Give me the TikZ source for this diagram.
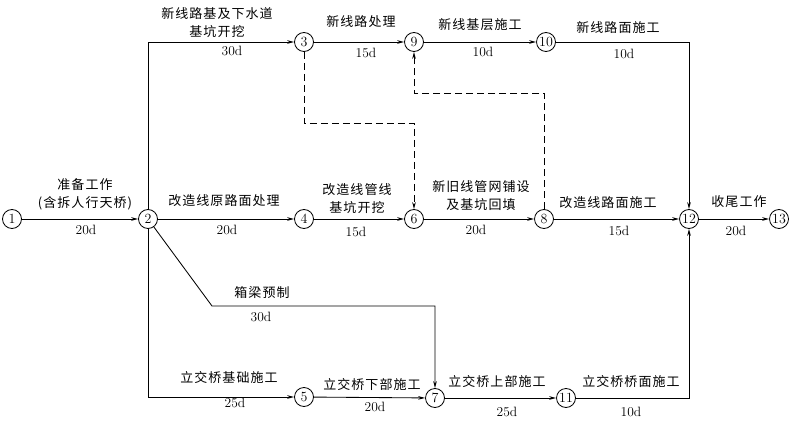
\documentclass[tikz,border=0pt]{standalone}
\usepackage{fontspec}
\newfontfamily\cjk[LetterSpace=8]{Noto Sans CJK SC}
\usetikzlibrary{arrows.meta}
\tikzset{
  ev/.style={circle,draw,line width=0.8pt,inner sep=0pt,minimum size=19pt,font=\fontsize{14}{14}\selectfont},
  arr/.style={line width=0.85pt,-{Stealth[length=7pt,width=3.6pt]}},
  dep/.style={arr,dash pattern=on 7pt off 4pt},
  lab/.style={inner sep=0pt,align=center,font=\fontsize{13}{18}\selectfont\cjk},
  dur/.style={inner sep=0pt,font=\fontsize{13.5}{14}\selectfont}
}
\begin{document}
\begin{tikzpicture}[x=1pt,y=-1pt]
\useasboundingbox (0,0) rectangle (797,422);
% events
\node[ev] (n1) at (12,219) {1};
\node[ev] (n2) at (148,219) {2};
\node[ev] (n3) at (304,42) {3};
\node[ev] (n9) at (414,42) {9};
\node[ev] (n10) at (546,42) {10};
\node[ev] (n4) at (304,219) {4};
\node[ev] (n6) at (414,219) {6};
\node[ev] (n8) at (544,219) {8};
\node[ev] (n12) at (689,219) {12};
\node[ev] (n13) at (779,219) {13};
\node[ev] (n5) at (304,397) {5};
\node[ev] (n7) at (435,398) {7};
\node[ev] (n11) at (566,398) {11};
% helper coordinates
\coordinate (k1) at (212,306);
\coordinate (d1) at (414,123);
\coordinate (d2) at (544,93);
% activities
\draw[arr] (n1) -- (n2);
\draw[arr] (n2) |- (n3);
\draw[arr] (n2) -- (n4);
\draw[arr] (n2) |- (n5);
\draw[arr] (n2) -- (k1) -| (n7);
\draw[arr] (n3) -- (n9);
\draw[arr] (n9) -- (n10);
\draw[arr] (n10) -| (n12);
\draw[arr] (n4) -- (n6);
\draw[arr] (n6) -- (n8);
\draw[arr] (n8) -- (n12);
\draw[arr] (n12) -- (n13);
\draw[arr] (n5) -- (n7);
\draw[arr] (n7) -- (n11);
\draw[arr] (n11) -| (n12);
% dummy activities
\draw[dep] (n3) |- (d1) -- (n6);
\draw[dep] (n8) -- (d2) -| (n9);
% labels
\node[lab] (t12) at (85,194) {准备工作\\(含拆人行天桥)};
\node[dur] (u12) at (86,230) {20d};
\node[lab] (t23) at (217,23) {新线路基及下水道\\基坑开挖};
\node[dur] (u23) at (232,51) {30d};
\node[lab] (t39) at (361,22) {新线路处理};
\node[dur] (u39) at (366,53) {15d};
\node[lab] (t910) at (480,25) {新线基层施工};
\node[dur] (u910) at (483,52) {10d};
\node[lab] (t1012) at (618,28) {新线路面施工};
\node[dur] (u1012) at (624,54) {10d};
\node[lab] (t24) at (224,201) {改造线原路面处理};
\node[dur] (u24) at (227,230) {20d};
\node[lab] (t46) at (357,199) {改造线管线\\基坑开挖};
\node[dur] (u46) at (356,232) {15d};
\node[lab] (t68) at (481,196) {新旧线管网铺设\\及基坑回填};
\node[dur] (u68) at (476,230) {20d};
\node[lab] (t812) at (608,203) {改造线路面施工};
\node[dur] (u812) at (619,231) {15d};
\node[lab] (t1213) at (739,202) {收尾工作};
\node[dur] (u1213) at (736,231) {20d};
\node[lab] (t27) at (262,293) {箱梁预制};
\node[dur] (u27) at (261,317) {30d};
\node[lab] (t25) at (229,378) {立交桥基础施工};
\node[dur] (u25) at (235,403) {25d};
\node[lab] (t57) at (372,385) {立交桥下部施工};
\node[dur] (u57) at (375,407) {20d};
\node[lab] (t711) at (497,382) {立交桥上部施工};
\node[dur] (u711) at (507,412) {25d};
\node[lab] (t1112) at (631,382) {立交桥桥面施工};
\node[dur] (u1112) at (631,412) {10d};
\end{tikzpicture}
\end{document}
